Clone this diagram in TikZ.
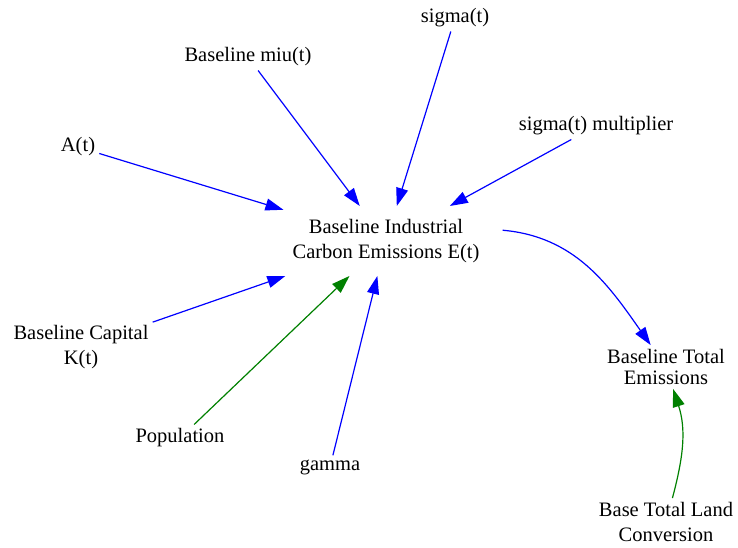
\documentclass[tikz,border=0pt]{standalone}
\usepackage{fontspec}
\setmainfont{Liberation Serif}
\usetikzlibrary{arrows.meta}

\begin{document}
\begin{tikzpicture}[x=1pt, y=1pt,
    var/.style={align=center, inner sep=4pt, font=\fontsize{20.5}{25}\selectfont},
    link/.style={-{Triangle[length=18pt,width=12pt]}, line width=1.2pt, color=blue},
    greenlink/.style={link, color=green!50!black}]
  \useasboundingbox (0,0) rectangle (738,548);

  % Emissions variable
  \node[var, inner xsep=9pt, inner ysep=13pt] (emis) at (386,307)
    {Baseline Industrial\\Carbon Emissions E(t)};

  % Its causes
  \node[var] (sigma) at (455,530) {sigma(t)};
  \node[var] (miu) at (248,491) {Baseline miu(t)};
  \node[var] (sigmamult) at (596,422) {sigma(t) multiplier};
  \node[var] (at) at (78,401) {A(t)};
  \node[var] (capital) at (81,201) {Baseline Capital\\K(t)};
  \node[var] (pop) at (180,110) {Population};
  \node[var] (gamma) at (330,81) {gamma};

  % Total emissions
  \node[var, font=\fontsize{20.5}{21}\selectfont] (total) at (666,181)
    {Baseline Total\\Emissions};
  \node[var] (land) at (666,26) {Base Total Land\\Conversion};

  % Links
  \draw[link] (at) -- (emis);
  \draw[link] (miu) -- (emis);
  \draw[link] (sigma) -- (emis);
  \draw[link] (sigmamult) -- (emis);
  \draw[link] (capital) -- (emis);
  \draw[greenlink] (pop) -- (emis);
  \draw[link] (gamma) -- (emis);
  \draw[link] ([xshift=14pt]emis.6) to[out=-5, in=125] (total);
  \draw[greenlink] (land) to[out=75, in=-72] (total);
\end{tikzpicture}
\end{document}
